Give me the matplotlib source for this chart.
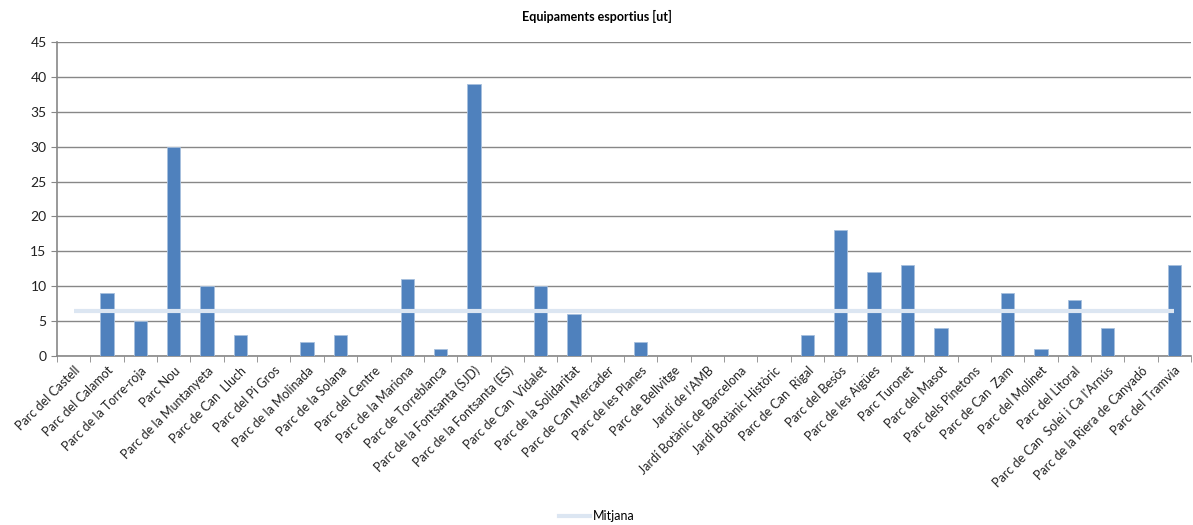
import numpy as np
from matplotlib import pyplot as plt
from matplotlib.lines import Line2D

parcs = [
    "Parc del Castell", "Parc del Calamot", "Parc de la Torre-roja", "Parc Nou",
    "Parc de la Muntanyeta", "Parc de Can  Lluch", "Parc del Pi Gros",
    "Parc de la Molinada", "Parc de la Solana", "Parc del Centre",
    "Parc de la Mariona", "Parc de Torreblanca", "Parc de la Fontsanta (SJD)",
    "Parc de la Fontsanta (ES)", "Parc de Can  Vidalet", "Parc de la Solidaritat",
    "Parc de Can Mercader", "Parc de les Planes", "Parc de Bellvitge",
    "Jardí de l'AMB", "Jardí Botànic de Barcelona", "Jardí Botànic Històric",
    "Parc de Can  Rigal", "Parc del Besòs", "Parc de les Aigües", "Parc Turonet",
    "Parc del Masot", "Parc dels Pinetons", "Parc de Can  Zam", "Parc del Molinet",
    "Parc del Litoral", "Parc de Can  Solei i Ca l'Arnús",
    "Parc de la Riera de Canyadó", "Parc del Tramvia",
]
equipaments = [0, 9, 5, 30, 10, 3, 0, 2, 3, 0, 11, 1, 39, 0, 10, 6, 0, 2, 0,
               0, 0, 0, 3, 18, 12, 13, 4, 0, 9, 1, 8, 4, 0, 13]
mitjana = 6.5

BLUE = "#4F81BD"
GRID = "#878787"

plt.rcParams['font.family'] = ['Lato', 'DejaVu Sans']

fig = plt.figure(figsize=(11.93, 5.25), dpi=100)
ax = fig.add_axes([57 / 1193, 1 - 356 / 525, (1191 - 57) / 1193, (356 - 42) / 525])

x = np.arange(len(parcs))
ax.bar(x, equipaments, width=0.4, color=BLUE, edgecolor="#A7C0DE",
       linewidth=0.6, zorder=3)
ax.plot([x[0], x[-1]], [mitjana, mitjana], color="#DCE6F2", linewidth=3,
        solid_capstyle='butt', zorder=4)

ax.set_xlim(-0.5, len(parcs) - 0.5)
ax.set_ylim(0, 45)
ax.set_yticks(np.arange(0, 46, 5))
ax.yaxis.grid(True, color=GRID, linewidth=1)
ax.set_axisbelow(True)

ax.set_xticks(x)
ax.set_xticklabels(parcs, rotation=45, ha='right', rotation_mode='anchor',
                   fontsize=9, color="#222222")
ax.set_xticks(np.arange(-0.5, len(parcs), 1), minor=True)
ax.tick_params(axis='x', which='major', length=0, pad=6)
ax.tick_params(axis='x', which='minor', length=4, color=GRID, direction='out')
ax.tick_params(axis='y', length=4, color=GRID, labelsize=10, labelcolor="#222222")

for side in ['top', 'right']:
    ax.spines[side].set_visible(False)
for side in ['left', 'bottom']:
    ax.spines[side].set_color(GRID)
    ax.spines[side].set_linewidth(1.2)

fig.text(0.5, 1 - 16 / 525, "Equipaments esportius [ut]", ha='center', va='center',
         fontsize=9, fontweight='bold')

handle = Line2D([], [], color="#DCE6F2", linewidth=3)
fig.legend([handle], ["Mitjana"], loc='center', bbox_to_anchor=(0.5, 1 - 516 / 525),
           frameon=False, fontsize=9, handlelength=2.5, handletextpad=0.2)

fig.savefig("out.png", dpi=100)
